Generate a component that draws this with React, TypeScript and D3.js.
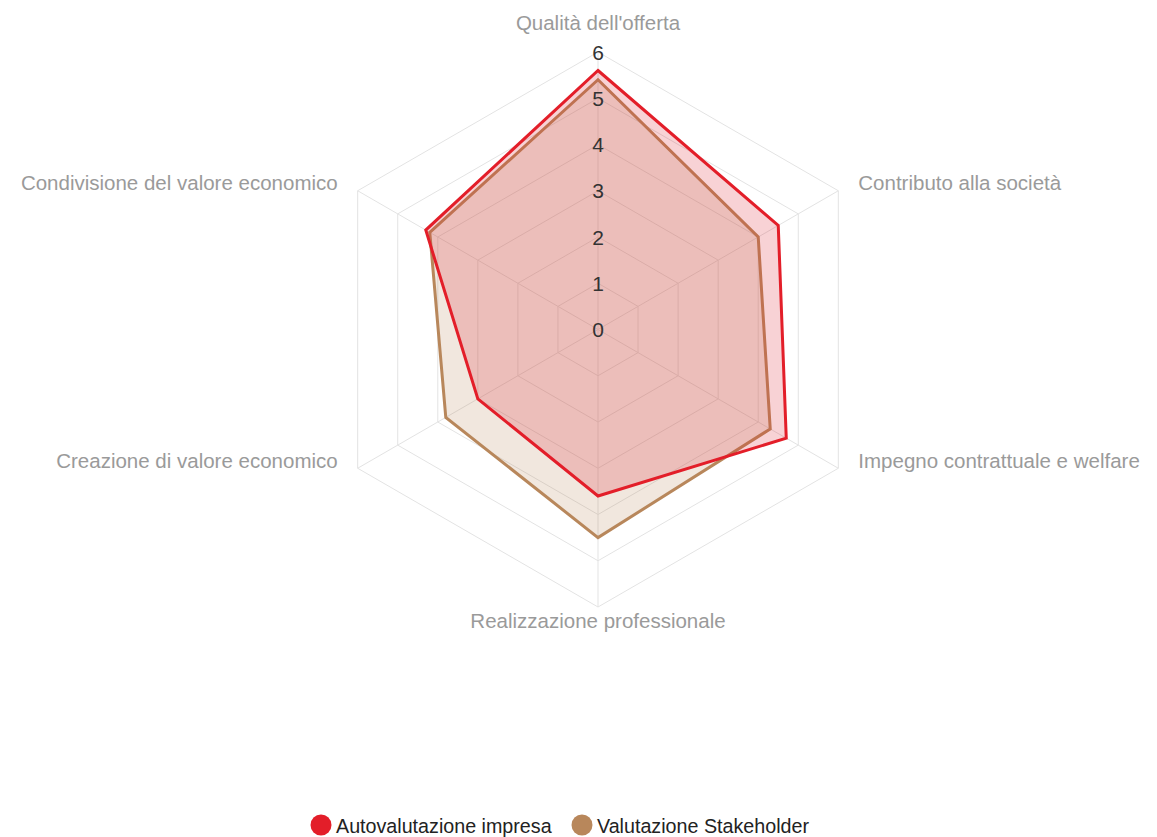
import React, { useEffect, useRef } from 'react';
import * as d3 from 'd3';

const axes = [
  "Qualità dell'offerta",
  'Contributo alla società',
  'Impegno contrattuale e welfare',
  'Realizzazione professionale',
  'Creazione di valore economico',
  'Condivisione del valore economico',
];
const autovalutazione = [5.6, 4.5, 4.7, 3.6, 3.0, 4.3];
const stakeholder = [5.4, 4.0, 4.3, 4.5, 3.8, 4.2];
const ticks = [0, 1, 2, 3, 4, 5, 6];

const series = [
  { name: 'Valutazione Stakeholder', values: stakeholder, stroke: '#b8875b', fill: 'rgba(184,135,91,0.2)' },
  { name: 'Autovalutazione impresa', values: autovalutazione, stroke: '#e31e29', fill: 'rgba(222,30,45,0.2)' },
];

function App() {
  const svgRef = useRef<SVGSVGElement>(null);

  useEffect(() => {
    const width = 1157, height = 837;
    const cx = 598, cy = 329.5, radius = 277.5;
    const font = '"Liberation Sans", Arial, Helvetica, sans-serif';

    const svg = d3.select(svgRef.current);
    svg.selectAll('*').remove();
    svg.attr('width', width).attr('height', height);

    const r = d3.scaleLinear().domain([0, 6]).range([0, radius]);
    const angle = (i: number) => (i * 2 * Math.PI) / axes.length;
    const pt = (i: number, v: number): [number, number] => [
      cx + r(v) * Math.sin(angle(i)),
      cy - r(v) * Math.cos(angle(i)),
    ];

    const g = svg.append('g');

    // grid
    ticks.slice(1).forEach(t => {
      g.append('path')
        .attr('d', d3.line()(axes.map((_, i) => pt(i, t))) + 'Z')
        .attr('fill', 'none')
        .attr('stroke', '#e3e3e3')
        .attr('stroke-width', 1);
    });
    axes.forEach((_, i) => {
      const [x, y] = pt(i, 6);
      g.append('line')
        .attr('x1', cx).attr('y1', cy).attr('x2', x).attr('y2', y)
        .attr('stroke', '#e3e3e3').attr('stroke-width', 1);
    });

    // data
    const line = d3.line<number>()
      .x((d, i) => pt(i, d)[0])
      .y((d, i) => pt(i, d)[1])
      .curve(d3.curveLinearClosed);
    series.forEach(s => {
      g.append('path')
        .attr('d', line(s.values))
        .attr('fill', s.fill)
        .attr('stroke', s.stroke)
        .attr('stroke-width', 3)
        .attr('stroke-linejoin', 'miter');
    });

    // tick labels
    ticks.forEach(t => {
      g.append('text')
        .attr('x', cx).attr('y', cy - r(t))
        .attr('text-anchor', 'middle')
        .attr('dominant-baseline', 'central')
        .attr('font-family', font).attr('font-size', 21)
        .attr('fill', '#333')
        .text(t);
    });

    // point labels
    axes.forEach((label, i) => {
      const a = angle(i);
      const [x, y] = pt(i, 6);
      const s = Math.sin(a);
      let anchor = 'middle', lx = x, ly = y;
      if (Math.abs(s) < 0.01) {
        ly = Math.cos(a) > 0 ? y - 30 : y + 13;
      } else {
        anchor = s > 0 ? 'start' : 'end';
        lx = x + (s > 0 ? 20 : -20);
        ly = y - 8;
      }
      g.append('text')
        .attr('x', lx).attr('y', ly)
        .attr('text-anchor', anchor)
        .attr('dominant-baseline', 'central')
        .attr('font-family', font).attr('font-size', 20.5)
        .attr('fill', '#9a9a9a')
        .text(label);
    });

    // legend
    const legend = [series[1], series[0]];
    const lx = [321, 582];
    legend.forEach((s, i) => {
      g.append('circle')
        .attr('cx', lx[i]).attr('cy', 825).attr('r', 10.5)
        .attr('fill', s.stroke);
      g.append('text')
        .attr('x', lx[i] + 15).attr('y', 826)
        .attr('dominant-baseline', 'central')
        .attr('font-family', font).attr('font-size', 19.7)
        .attr('fill', '#222')
        .text(s.name);
    });
  }, []);

  return <svg ref={svgRef} style={{ position: 'absolute', left: 0, top: 0 }} />;
}

export default App;
